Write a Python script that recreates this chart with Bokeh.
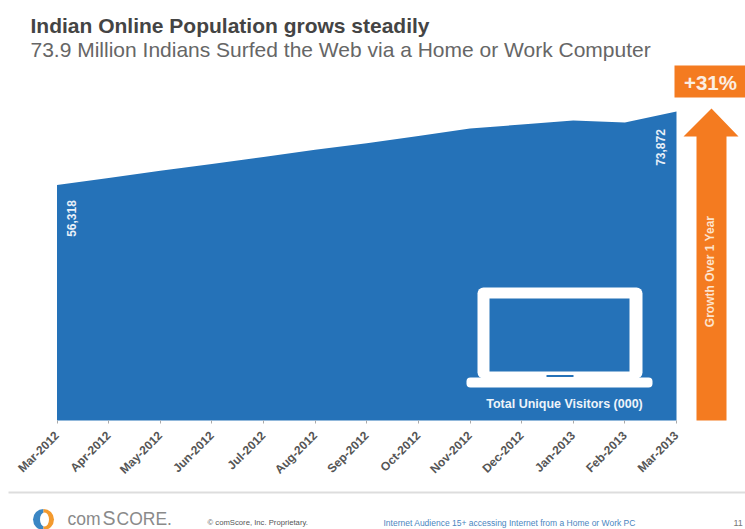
from bokeh.embed import file_html
from bokeh.models import ColumnDataSource, FixedTicker, Range1d
from bokeh.plotting import figure
from bokeh.resources import INLINE
from bokeh.core.properties import value
import math

# Monthly audience, thousands of unique visitors
months = ["Mar-2012", "Apr-2012", "May-2012", "Jun-2012", "Jul-2012", "Aug-2012", "Sep-2012",
          "Oct-2012", "Nov-2012", "Dec-2012", "Jan-2013", "Feb-2013", "Mar-2013"]
visitors = [56318, 57950, 59700, 61300, 63000, 64700, 66300, 68000, 69800, 70760, 71720, 71240, 73872]
first_label = "56,318"
last_label = "73,872"
title = "Indian Online Population grows steadily"
subtitle = "73.9 Million Indians Surfed the Web via a Home or Work Computer"
growth = "+31%"

W, H = 745, 529
LEFT, RIGHT, BASE = 56.5, 676.0, 420.0   # plot box in page pixels
PX_PER_MONTH = (RIGHT - LEFT) / (len(months) - 1)
PX_PER_UNIT = 0.004183

BLUE = "#2572b8"
ORANGE = "#f47b20"
FONT = value("Liberation Sans")

p = figure(width=W, height=H, output_backend="svg", toolbar_location=None, min_border=0,
           x_range=Range1d(-LEFT / PX_PER_MONTH, (W - LEFT) / PX_PER_MONTH),
           y_range=Range1d(-(H - BASE) / PX_PER_UNIT, BASE / PX_PER_UNIT),
           outline_line_color=None, background_fill_color="white", border_fill_color="white")
p.grid.visible = False
p.yaxis.visible = False
# Second pair of ranges in page pixels for the slide furniture around the chart
p.extra_x_ranges["page_x"] = Range1d(0, W)
p.extra_y_ranges["page_y"] = Range1d(H, 0)

src = ColumnDataSource(dict(x=list(range(len(months))), top=visitors, base=[0] * len(months)))
p.varea(x="x", y1="base", y2="top", source=src, fill_color=BLUE)

ax = p.xaxis[0]
ax.fixed_location = 0
ax.ticker = FixedTicker(ticks=list(range(len(months))))
ax.major_label_overrides = {i: m for i, m in enumerate(months)}
ax.major_label_orientation = math.pi / 4
ax.major_label_text_font = "Liberation Sans"
ax.major_label_text_font_size = "12px"
ax.major_label_text_font_style = "bold"
ax.major_label_text_color = "#555555"
ax.major_label_standoff = 10
ax.axis_line_color = None
ax.major_tick_line_color = "#aaaaaa"
ax.major_tick_in = 0
ax.major_tick_out = 3
ax.minor_tick_line_color = None


def page(**kw):
    return dict(x_range_name="page_x", y_range_name="page_y", **kw)


def text(x, y, s, size, color, style="normal", align="left", angle=0.0):
    p.text(x=[x], y=[y], text=[s], text_font=FONT, text_font_size=size, text_color=color,
           text_font_style=style, text_align=align, text_baseline="middle", angle=angle,
           **page())


text(30, 25, title, "21px", "#444444", "bold")
text(30, 49, subtitle, "21px", "#666666")

# Endpoint values written vertically inside the area
text(71, 218, first_label, "12px", "#e8f0f8", "bold", "center", math.pi / 2)
text(660, 147, last_label, "12px", "#e8f0f8", "bold", "center", math.pi / 2)

# Growth arrow and badge
p.patch(x=[711, 738, 726, 726, 696, 696, 683], y=[108, 136, 136, 420, 420, 136, 136],
        fill_color=ORANGE, line_color=None, **page())
p.quad(left=[674], right=[745], top=[65], bottom=[97], fill_color=ORANGE, line_color=None, **page())
text(710, 82, growth, "20.5px", "#fbeee2", "bold", "center")
text(709, 271, "Growth Over 1 Year", "12px", "#fde3cd", "bold", "center", math.pi / 2)

# Laptop pictogram
p.quad(left=[477], right=[642], top=[287], bottom=[378], fill_color="white", line_color=None,
       border_radius=6, **page())
p.quad(left=[466], right=[652], top=[377], bottom=[387], fill_color="white", line_color=None,
       border_radius=4, **page())
p.quad(left=[489], right=[629], top=[298], bottom=[371], fill_color=BLUE, line_color=None, **page())
p.quad(left=[546], right=[573], top=[374.5], bottom=[376.5], fill_color=BLUE, line_color=None, **page())
text(564, 403, "Total Unique Visitors (000)", "12.5px", "#eef4fa", "bold", "center")

# Footer rule, logo and notes
p.segment(x0=[8], y0=[492], x1=[745], y1=[492], line_color="#dddddd", line_width=2, **page())
p.wedge(x=[43], y=[519], radius=10.5, start_angle=[0.5 * math.pi], end_angle=[1.5 * math.pi],
        fill_color="#3a86c4", line_color=None, **page())
p.wedge(x=[43], y=[519], radius=10.5, start_angle=[1.5 * math.pi], end_angle=[0.5 * math.pi],
        fill_color="#f39a2e", line_color=None, **page())
p.ellipse(x=[44], y=[519], width=9, height=14, fill_color="white", line_color=None, **page())
text(67, 518, "com", "17.5px", "#8a8a8a")
text(102, 517, "S", "19.5px", "#8a8a8a")
text(116, 518, "CORE.", "17.5px", "#8a8a8a")
text(207, 522, "© comScore, Inc.   Proprietary.", "7.7px", "#555555")
text(383, 522, "Internet Audience 15+ accessing Internet from a Home or Work PC", "8.5px", "#4a86c0")
text(733, 522, "11", "9px", "#777777")

open("out.html", "w").write(file_html(p, INLINE))
